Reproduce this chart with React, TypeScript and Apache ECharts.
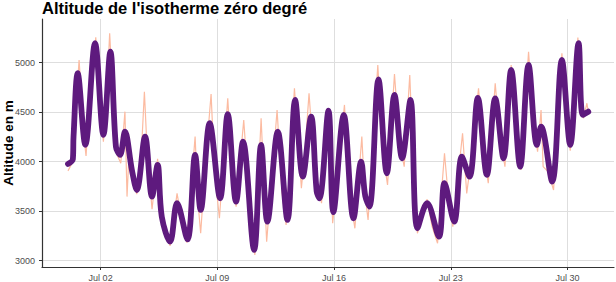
import React, { useEffect, useRef } from "react";
import * as echarts from "echarts";

const TITLE = "Altitude de l'isotherme zéro degré";
const Y_NAME = "Altitude en m";
const START_UTC = Date.UTC(2023, 5, 30, 0, 0); // 30 June, 00:00
const MONTHS = ["Jan", "Feb", "Mar", "Apr", "May", "Jun", "Jul", "Aug", "Sep", "Oct", "Nov", "Dec"];

// Smoothed series: hours since 30 June 00:00, and altitudes (m)
const smoothHours = [
  1, 8, 9, 15, 26, 40, 52, 62, 70, 76, 83, 93, 100, 112, 122, 130, 136, 148, 158, 173,
  184, 192, 205, 220, 231, 243, 253, 269, 279, 288, 303, 317, 328, 339, 351, 359, 363, 376, 383, 398,
  412, 423, 429, 435, 448, 460, 471, 482, 494, 504, 518, 535, 543, 557, 568, 579, 591, 604, 616, 628,
  639, 652, 664, 676, 682, 698, 712, 724, 736, 742, 750,
];
const smoothValues = [
  3977, 4024, 4253, 4893, 4169, 5196, 4270, 5111, 4152, 4068, 4303, 3916, 3714, 4253, 3647, 3967, 3445, 3192, 3580, 3215,
  4068, 3512, 4388, 3630, 4479, 3596, 4202, 3108, 4169, 3394, 4303, 3411, 4623, 3849, 4455, 3700, 3630, 4515, 3490, 4472,
  3428, 4000, 3650, 3546, 4832, 3883, 4674, 4034, 4623, 3327, 3580, 3243, 3782, 3394, 4050, 3849, 4645, 3866, 4640, 4034,
  4926, 3950, 4977, 4169, 4354, 3798, 5027, 4169, 5196, 4472, 4505,
];

// Raw series: hours since 30 June 00:00, and altitudes (m)
const rawHours = [
  1, 8, 10, 17, 24, 27, 31, 41, 47, 52, 57, 61, 70, 77, 83, 86, 89, 93, 100, 106,
  111, 115, 122, 130, 136, 148, 158, 165, 172, 184, 188, 192, 198, 207, 212, 219, 231, 238, 243, 254,
  263, 270, 279, 287, 294, 302, 309, 315, 327, 337, 342, 348, 356, 366, 375, 379, 382, 399, 406, 414,
  424, 428, 433, 447, 454, 461, 471, 478, 485, 493, 498, 504, 518, 525, 533, 543, 549, 555, 569, 575,
  580, 592, 599, 606, 616, 622, 630, 639, 646, 653, 664, 671, 677, 682, 685, 692, 700, 712, 718, 724,
  735, 740, 743, 748, 750,
];
const rawValues = [
  3907, 4000, 4300, 5027, 4250, 4058, 4500, 5257, 4600, 4202, 4700, 5297, 4100, 3984, 4505, 3647, 4100, 3880, 3671, 4000,
  4707, 4100, 3519, 4030, 3420, 3150, 3680, 3400, 3182, 4253, 3600, 3277, 3900, 4684, 3900, 3428, 4640, 3800, 3546, 4421,
  3500, 3058, 4438, 3192, 3800, 4522, 3700, 3361, 4741, 3732, 4100, 4690, 3900, 3580, 4539, 4000, 3378, 4573, 3700, 3327,
  4253, 3700, 3411, 4977, 4100, 3765, 4886, 4200, 3950, 4876, 4000, 3277, 3620, 3350, 3176, 4085, 3600, 3344, 4287, 3680,
  3950, 4741, 4100, 3782, 4792, 4300, 3950, 4977, 4300, 3916, 5111, 4400, 4100, 4522, 3950, 3900, 3714, 5095, 4500, 4111,
  5253, 4700, 4438, 4590, 4500,
];

const yTicks = [3000, 3500, 4000, 4500, 5000];
const xTickDates = [
  Date.UTC(2023, 6, 2),
  Date.UTC(2023, 6, 9),
  Date.UTC(2023, 6, 16),
  Date.UTC(2023, 6, 23),
  Date.UTC(2023, 6, 30),
];
const X_MIN_HOURS = -36.4;
const X_MAX_HOURS = 787;
const Y_MIN = 2936;
const Y_MAX = 5441;

const H = 3600 * 1000;
const toTime = (h: number) => START_UTC + h * H;

const FONT = "Liberation Sans, Arial, sans-serif";

export default function App() {
  const ref = useRef<HTMLDivElement>(null);
  useEffect(() => {
    if (!ref.current) return;
    const chart = echarts.init(ref.current, null, { renderer: "svg" });
    const smooth = smoothHours.map((h, i) => [toTime(h), smoothValues[i]]);
    const raw = rawHours.map((h, i) => [toTime(h), rawValues[i]]);
    const fmtDate = (v: number) => {
      const d = new Date(v);
      return `${MONTHS[d.getUTCMonth()]} ${String(d.getUTCDate()).padStart(2, "0")}`;
    };
    chart.setOption({
      animation: false,
      title: {
        text: TITLE,
        left: 42,
        top: -0.5,
        padding: 0,
        textStyle: { fontFamily: FONT, fontWeight: "bold", fontSize: 16.5, color: "#000" },
      },
      grid: { left: 42, right: 2, top: 19, bottom: 15, containLabel: false, outerBoundsMode: "none" },
      xAxis: {
        type: "value",
        min: toTime(X_MIN_HOURS),
        max: toTime(X_MAX_HOURS),
        axisLine: { show: true, lineStyle: { color: "#333", width: 1.2 } },
        axisTick: { show: true, length: 3, customValues: xTickDates, lineStyle: { color: "#333" } },
        axisLabel: {
          customValues: xTickDates,
          formatter: (v: number) => fmtDate(v),
          color: "#4D4D4D",
          fontSize: 9,
          fontFamily: FONT,
          margin: 6,
        },
        splitLine: { show: true, lineStyle: { color: "#DEDEDE", width: 1 } },
      },
      yAxis: {
        type: "value",
        min: Y_MIN,
        max: Y_MAX,
        name: Y_NAME,
        nameLocation: "middle",
        nameGap: 27,
        nameMoveOverlap: false,
        nameTextStyle: { fontFamily: FONT, fontWeight: "bold", fontSize: 13.5, color: "#000" },
        axisLine: { show: true, lineStyle: { color: "#333", width: 1.2 } },
        axisTick: { show: true, length: 3, customValues: yTicks, lineStyle: { color: "#333" } },
        axisLabel: {
          customValues: yTicks,
          formatter: (v: number) => String(v),
          color: "#4D4D4D",
          fontSize: 9,
          fontFamily: FONT,
          margin: 7,
        },
        splitLine: { show: true, lineStyle: { color: "#DEDEDE", width: 1 } },
      },
      series: [
        {
          type: "line",
          data: raw,
          symbol: "none",
          lineStyle: { color: "#FCBBA1", width: 1.2 },
          z: 1,
        },
        {
          type: "line",
          data: smooth,
          symbol: "none",
          smooth: 0.35,
          lineStyle: { color: "#5E1A7E", width: 5.8, cap: "round", join: "round" },
          z: 2,
        },
      ],
    });
    return () => chart.dispose();
  }, []);
  return (
    <div
      ref={ref}
      style={{ position: "fixed", left: 0, top: 0, width: 616, height: 282, background: "#fff" }}
    />
  );
}
